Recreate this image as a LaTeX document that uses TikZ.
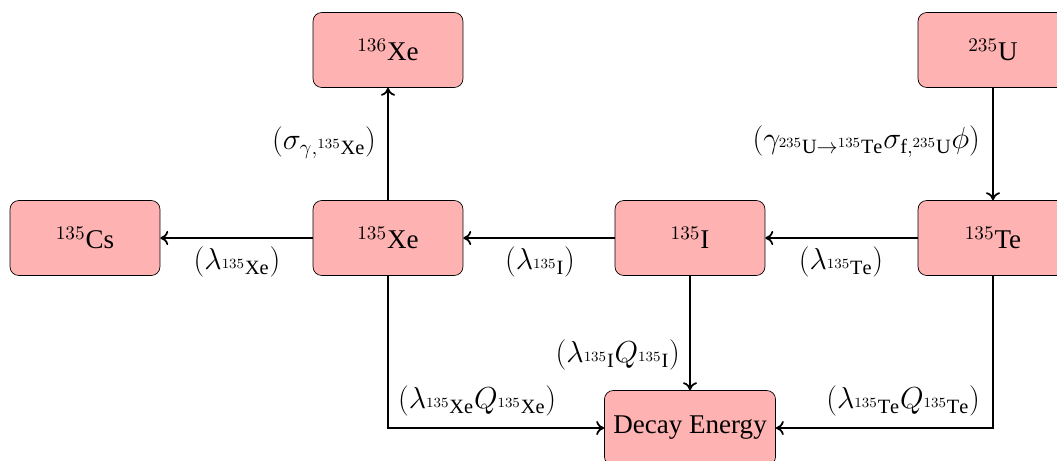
\documentclass[tikz,border=0pt]{standalone}
\usepackage{fontspec}
\setmainfont{Liberation Serif}
\usetikzlibrary{arrows.meta}
\begin{document}
\begin{tikzpicture}[x=0.02cm,y=-0.02cm,
  box/.style={draw=black,fill=red!30,rounded corners=5pt,minimum width=3cm,minimum height=1.5cm,font=\fontsize{15.4}{18}\selectfont,inner sep=5pt},
  conn/.style={line width=1pt,-{To[length=4.5pt,width=8pt]}},
  lab/.style={font=\fontsize{16.5}{19}\selectfont,inner sep=1pt}]
\useasboundingbox (0,0) rectangle (1057,460);
\node[box] (xe136) at (388,50) {$^{136}$Xe};
\node[box] (u235) at (993,50) {$^{235}$U};
\node[box] (cs135) at (85,238) {$^{135}$Cs};
\node[box] (xe135) at (388,238) {$^{135}$Xe};
\node[box] (i135) at (690,238) {$^{135}$I};
\node[box] (te135) at (993,238) {$^{135}$Te};
\node[box] (decay) at (690,428) {Decay Energy};
\coordinate (cxe) at (xe135.south |- decay.west);
\coordinate (cte) at (te135.south |- decay.east);
\draw[conn] (xe135) -- (xe136);
\draw[conn] (u235) -- (te135);
\draw[conn] (xe135) -- (cs135);
\draw[conn] (i135) -- (xe135);
\draw[conn] (te135) -- (i135);
\draw[conn] (i135) -- (decay);
\draw[conn] (xe135.south) -- (cxe) -- (decay.west);
\draw[conn] (te135.south) -- (cte) -- (decay.east);
\node[lab,anchor=east] (l1) at (378,143) {$(\sigma_{\gamma,{}^{135}\mathrm{Xe}})$};
\node[lab,anchor=east] (l2) at (982,142) {$(\gamma_{{}^{235}\mathrm{U}\rightarrow{}^{135}\mathrm{Te}}\sigma_{\mathrm{f},{}^{235}\mathrm{U}}\phi)$};
\node[lab] (l3) at (237,262) {$(\lambda_{{}^{135}\mathrm{Xe}})$};
\node[lab] (l4) at (540,262) {$(\lambda_{{}^{135}\mathrm{I}})$};
\node[lab] (l5) at (841,262) {$(\lambda_{{}^{135}\mathrm{Te}})$};
\node[lab,anchor=east] (l6) at (682,355) {$(\lambda_{{}^{135}\mathrm{I}}Q_{{}^{135}\mathrm{I}})$};
\node[lab,anchor=west] (l7) at (396,401) {$(\lambda_{{}^{135}\mathrm{Xe}}Q_{{}^{135}\mathrm{Xe}})$};
\node[lab,anchor=east] (l8) at (982,401) {$(\lambda_{{}^{135}\mathrm{Te}}Q_{{}^{135}\mathrm{Te}})$};
\end{tikzpicture}
\end{document}
